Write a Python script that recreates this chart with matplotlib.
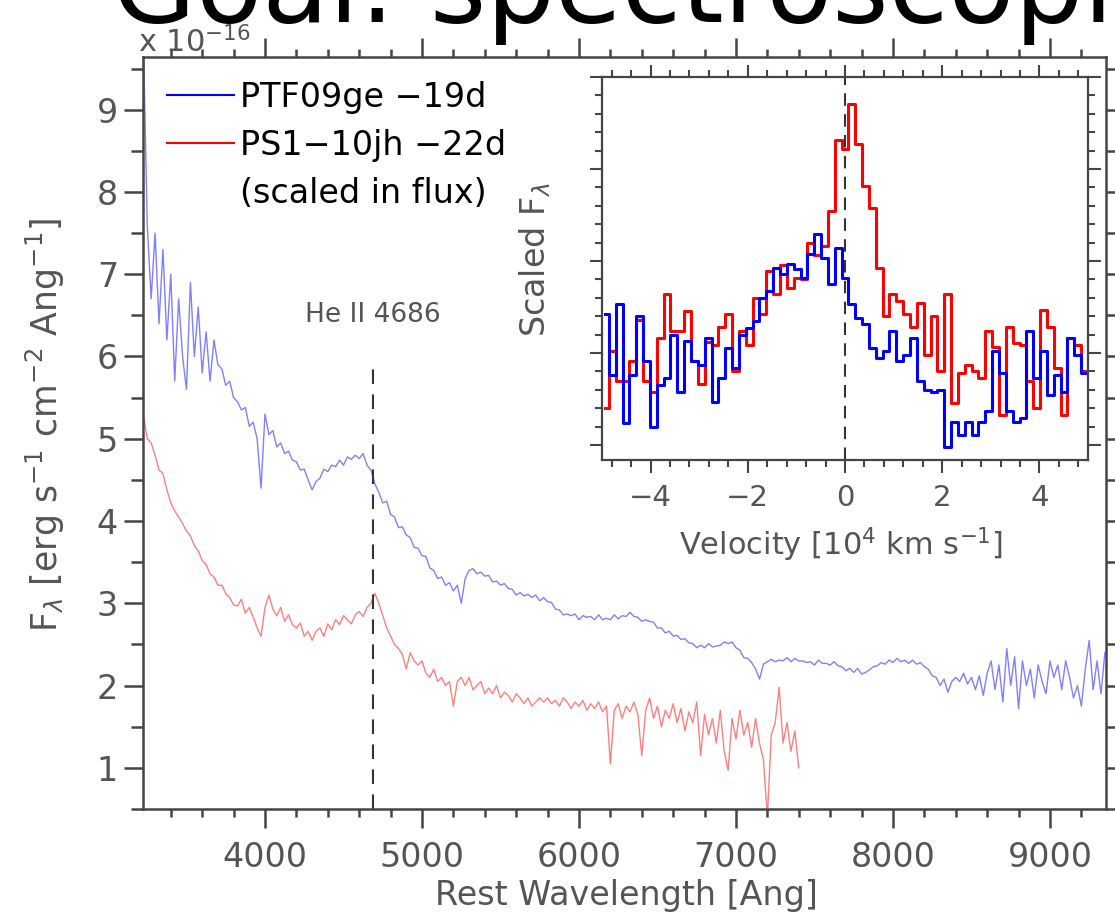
import numpy as np
import matplotlib
matplotlib.use('Agg')
import matplotlib.pyplot as plt
from matplotlib.ticker import MultipleLocator, NullFormatter
from matplotlib.lines import Line2D

plt.rcParams['font.family'] = ['DejaVu Sans']
plt.rcParams['mathtext.fontset'] = 'dejavusans'
plt.rcParams['axes.unicode_minus'] = True

# ---- spectra (flux in 1e-16 erg/s/cm2/A), 25 A sampling ----
wave_ptf = np.arange(3225, 9351, 25)
flux_ptf = [
    9.9, 7.6, 6.7, 7.5, 6.4, 7.3, 6.2, 7.0, 5.7, 6.7,
    6.0, 5.6, 6.9, 6.0, 6.6, 5.8, 6.3, 5.7, 6.2, 5.9,
    5.85, 5.65, 5.7, 5.5, 5.45, 5.35, 5.38, 5.15, 5.2, 5.0,
    4.4, 5.3, 5.05, 5.1, 4.9, 4.95, 4.82, 4.85, 4.74, 4.72,
    4.62, 4.63, 4.5, 4.38, 4.48, 4.52, 4.63, 4.6, 4.68, 4.66,
    4.74, 4.68, 4.78, 4.75, 4.8, 4.76, 4.82, 4.68, 4.62, 4.45,
    4.35, 4.22, 4.24, 4.08, 4.05, 3.92, 3.93, 3.83, 3.8, 3.68,
    3.67, 3.58, 3.57, 3.43, 3.4, 3.3, 3.32, 3.22, 3.25, 3.15,
    3.22, 3.0, 3.3, 3.4, 3.42, 3.36, 3.38, 3.33, 3.34, 3.26,
    3.27, 3.22, 3.24, 3.18, 3.17, 3.1, 3.13, 3.09, 3.11, 3.07,
    3.1, 3.03, 3.07, 3.02, 3.01, 2.93, 2.92, 2.86, 2.87, 2.85,
    2.87, 2.8, 2.85, 2.83, 2.84, 2.8, 2.86, 2.8, 2.82, 2.8,
    2.86, 2.81, 2.85, 2.84, 2.89, 2.84, 2.83, 2.78, 2.8, 2.78,
    2.77, 2.7, 2.7, 2.64, 2.66, 2.6, 2.61, 2.56, 2.57, 2.52,
    2.51, 2.46, 2.49, 2.46, 2.51, 2.47, 2.48, 2.49, 2.53, 2.51,
    2.53, 2.46, 2.43, 2.34, 2.33, 2.28, 2.2, 2.08, 2.26, 2.29,
    2.32, 2.29, 2.31, 2.3, 2.34, 2.29, 2.33, 2.3, 2.3, 2.28,
    2.29, 2.25, 2.31, 2.27, 2.27, 2.25, 2.29, 2.24, 2.23, 2.18,
    2.21, 2.16, 2.21, 2.14, 2.16, 2.19, 2.23, 2.24, 2.28, 2.26,
    2.31, 2.28, 2.33, 2.29, 2.31, 2.27, 2.31, 2.26, 2.28, 2.23,
    2.2, 2.12, 2.1, 2.0, 2.08, 1.92, 2.05, 2.1, 2.05, 2.15,
    2.02, 2.1, 1.95, 2.12, 1.88, 2.15, 2.3, 1.95, 2.25, 1.8,
    2.45, 2.0, 2.35, 1.72, 2.3, 2.0, 2.2, 1.85, 2.25, 2.05,
    1.9, 2.3, 2.1, 2.25, 1.95, 2.3, 2.1, 1.85, 2.0, 1.75,
    2.2, 2.55, 1.95, 2.3, 1.9, 2.4,
]

wave_ps1 = np.arange(3225, 7401, 25)
flux_ps1 = [
    5.3, 5.0, 4.95, 4.8, 4.62, 4.58, 4.38, 4.22, 4.12, 4.05,
    3.97, 3.88, 3.82, 3.7, 3.64, 3.52, 3.47, 3.36, 3.32, 3.22,
    3.22, 3.12, 3.07, 2.98, 2.97, 3.05, 2.88, 2.95, 2.83, 2.7,
    2.6, 2.95, 3.1, 2.93, 2.85, 2.95, 2.78, 2.86, 2.74, 2.7,
    2.76, 2.6, 2.66, 2.55, 2.66, 2.7, 2.6, 2.75, 2.68, 2.8,
    2.74, 2.85, 2.8, 2.75, 2.86, 2.9, 2.84, 2.95, 3.0, 3.12,
    3.0, 2.85, 2.7, 2.6, 2.5, 2.45, 2.38, 2.2, 2.4, 2.3,
    2.25, 2.3, 2.15, 2.1, 2.2, 2.05, 2.1, 2.0, 2.05, 1.75,
    2.05, 2.1, 2.0, 2.1, 1.95, 2.0, 2.05, 1.9, 1.97, 1.9,
    2.0, 1.85, 1.92, 1.88, 1.8, 1.9, 1.85, 1.78, 1.85, 1.75,
    1.8, 1.85, 1.8, 1.85, 1.78, 1.82, 1.75, 1.85, 1.8, 1.72,
    1.8, 1.75, 1.82, 1.7, 1.78, 1.72, 1.8, 1.68, 1.75, 1.05,
    1.7, 1.78, 1.6, 1.75, 1.68, 1.8, 1.65, 1.15, 1.7, 1.85,
    1.6, 1.75, 1.5, 1.7, 1.6, 1.78, 1.55, 1.72, 1.45, 1.68,
    1.55, 1.8, 1.15, 1.65, 1.4, 1.6, 1.3, 1.7, 1.2, 0.97,
    1.6, 1.35, 1.7, 1.4, 1.55, 1.25, 1.6, 1.3, 1.1, 0.4,
    1.4, 1.55, 1.98, 1.3, 1.55, 1.2, 1.45, 1.0,
]

heii_wave = 4686
heii_top = 5.87

# ---- He II 4686 profile in velocity space ----
vel = np.linspace(-4.93, 4.93, 71)
vprof_ps1 = [
    0.70, 1.01, 0.845, 0.845, 0.955, 1.18, 0.845, 0.79, 1.08, 1.32,
    1.12, 1.12, 1.23, 0.955, 0.83, 1.06, 1.045, 1.14, 1.21, 0.90,
    1.12, 1.045, 1.30, 1.21, 1.445, 1.32, 1.48, 1.355, 1.41, 1.40,
    1.60, 1.535, 1.58, 1.77, 2.155, 2.11, 2.355, 2.135, 1.91, 1.79,
    1.46, 1.20, 1.32, 1.28, 1.21, 1.14, 1.27, 0.99, 1.20, 0.90,
    1.32, 0.73, 0.89, 0.935, 0.90, 0.865, 1.12, 1.03, 0.665, 1.14,
    1.055, 1.045, 0.845, 0.70, 1.235, 1.14, 0.92, 0.665, 1.08, 1.045, 0.90,
]
vprof_ptf = [
    1.21, 0.88, 1.264, 0.62, 0.88, 1.20, 0.955, 0.60, 0.827, 0.864,
    1.10, 0.79, 1.064, 0.955, 0.936, 1.082, 0.736, 0.864, 1.027, 0.918,
    1.10, 1.136, 1.173, 1.30, 1.336, 1.464, 1.427, 1.482, 1.455, 1.409,
    1.536, 1.645, 1.518, 1.373, 1.573, 1.409, 1.264, 1.191, 1.155, 1.027,
    0.973, 1.009, 1.118, 0.955, 0.991, 1.082, 0.845, 0.80, 0.79, 0.80,
    0.49, 0.627, 0.555, 0.627, 0.555, 0.627, 0.682, 1.009, 0.891, 0.682,
    0.627, 0.645, 1.118, 0.864, 1.009, 0.773, 0.88, 0.79, 1.082, 0.991, 0.891,
]

axcol = '#454545'
txtcol = '#555555'
W, H = 1115, 915

fig = plt.figure(figsize=(W / 100, H / 100), dpi=100)

# main panel
ax = fig.add_axes([143 / W, 1 - 809 / H, (1106 - 143) / W, (809 - 57) / H])
ax.plot(wave_ptf, flux_ptf, color='blue', lw=1.0, alpha=0.5)
ax.plot(wave_ps1, flux_ps1, color='red', lw=1.0, alpha=0.5)
ax.plot([heii_wave, heii_wave], [0.5, heii_top], color='#333333', lw=1.5,
        ls=(0, (7, 5)))
ax.text(heii_wave, 6.5, 'He II 4686', ha='center', va='center',
        fontsize=19, color=txtcol)

ax.set_xlim(3223, 9357)
ax.set_ylim(0.5, 9.64)
ax.xaxis.set_major_locator(MultipleLocator(1000))
ax.xaxis.set_minor_locator(MultipleLocator(200))
ax.yaxis.set_major_locator(MultipleLocator(1))
ax.yaxis.set_minor_locator(MultipleLocator(0.5))
ax.tick_params(which='both', direction='out', top=True, right=True,
               color=axcol, width=1.8, labelcolor=txtcol, labelsize=24)
ax.tick_params(which='major', length=14)
ax.tick_params(axis='x', which='minor', length=6)
ax.tick_params(axis='y', which='minor', length=9)
ax.tick_params(axis='x', pad=9)
ax.tick_params(axis='y', pad=4)
for s in ax.spines.values():
    s.set_color(axcol)
    s.set_linewidth(1.8)

handles = [Line2D([], [], color='blue', lw=1.5),
           Line2D([], [], color='red', lw=1.5),
           Line2D([], [], color='none')]
labels = ['PTF09ge \u221219d', 'PS1\u221210jh \u221222d', '(scaled in flux)']
ax.legend(handles, labels, loc='upper left', bbox_to_anchor=(0.025, 0.968),
          frameon=False, fontsize=24, handlelength=2.0, handletextpad=0.2,
          labelspacing=0.45, borderpad=0, borderaxespad=0)

fig.text(45 / W, 1 - 425 / H,
         r'F$_\lambda$ [erg s$^{-1}$ cm$^{-2}$ Ang$^{-1}$]',
         rotation=90, ha='center', va='center', fontsize=25, color=txtcol)
fig.text(626 / W, 1 - 895 / H, 'Rest Wavelength [Ang]', ha='center',
         va='center', fontsize=24, color=txtcol)
fig.text(138 / W, 1 - 52 / H, r'x 10$^{-16}$', ha='left', va='baseline',
         fontsize=22, color=txtcol)

# inset with the line profile
ins = fig.add_axes([602 / W, 1 - 460 / H, 486 / W, 383 / H])
ins.set_facecolor('white')
ins.plot(vel, vprof_ps1, color='red', lw=2.2, drawstyle='steps-mid')
ins.plot(vel, vprof_ptf, color='blue', lw=2.2, drawstyle='steps-mid')
ins.axvline(0, color='#333333', lw=1.5, ls=(0, (6, 4)))
ins.set_xlim(-5, 5)
ins.set_ylim(0.418, 2.5)
ins.xaxis.set_major_locator(MultipleLocator(2))
ins.xaxis.set_minor_locator(MultipleLocator(0.4))
ins.yaxis.set_major_locator(MultipleLocator(0.5))
ins.yaxis.set_minor_locator(MultipleLocator(0.1))
ins.yaxis.set_major_formatter(NullFormatter())
ins.tick_params(which='both', direction='out', top=True, right=True,
                color=axcol, width=1.5, labelcolor=txtcol, labelsize=21)
ins.tick_params(which='major', length=9)
ins.tick_params(which='minor', length=5)
ins.tick_params(axis='x', pad=8)
for s in ins.spines.values():
    s.set_color(axcol)
    s.set_linewidth(1.6)

fig.text(535 / W, 1 - 260 / H, r'Scaled F$_\lambda$', rotation=90,
         ha='center', va='center', fontsize=24, color=txtcol)
fig.text(841 / W, 1 - 545 / H, r'Velocity [10$^4$ km s$^{-1}$]',
         ha='center', va='center', fontsize=22, color=txtcol)

# slide heading, cut by the top edge
fig.text(112 / W, 1 - 22 / H, 'Goal: spectroscopic', ha='left',
         va='baseline', fontsize=78, color='black')

fig.savefig('out.png', dpi=100)
